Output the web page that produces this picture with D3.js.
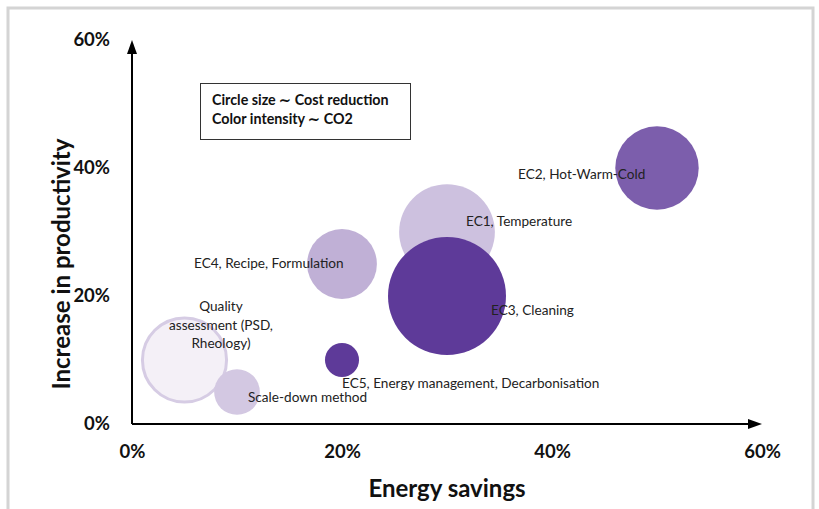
<!DOCTYPE html>
<html><head><meta charset="utf-8">
<script src="https://cdn.jsdelivr.net/npm/d3@7"></script>
<style>body{margin:0;background:#fff}svg{display:block}text{font-family:Lato,"Open Sans",sans-serif}</style>
</head><body><svg id="c" width="819" height="509"></svg>
<script>
const names = ["Quality assessment (PSD, Rheology)","Scale-down method","EC4, Recipe, Formulation","EC5, Energy management, Decarbonisation","EC1, Temperature","EC3, Cleaning","EC2, Hot-Warm-Cold"];
const energySavings = [5,10,20,20,30,30,50];
const productivity = [10,5,25,10,30,20,40];
const costReduction = [6.1,1.8,4.2,1.0,7.9,12,6.0];
const co2Intensity = [0.0,0.22,0.35,1.0,0.26,1.0,0.8];
const xTicks = [0,20,40,60];
const yTicks = [0,20,40,60];

const svg = d3.select("#c");
// outer frame
svg.append("rect").attr("x",8).attr("y",8).attr("width",805).attr("height",510)
  .attr("fill","none").attr("stroke","#d4d4d4").attr("stroke-width",3);

const x = d3.scaleLinear().domain([0,60]).range([132,762]);
const y = d3.scaleLinear().domain([0,60]).range([424,40]);
const r = d3.scaleSqrt().domain([0,12]).range([0,59]);
const col = d3.scaleLinear().domain([0,1]).range(["#f4f0f7","#5e3a99"]);

// bubbles
const data = names.map((n,i)=>({n,x:energySavings[i],y:productivity[i],c:costReduction[i],co2:co2Intensity[i]}));
svg.append("g").selectAll("circle").data(data).join("circle")
  .attr("cx",d=>x(d.x)).attr("cy",d=>y(d.y)).attr("r",d=>r(d.c))
  .attr("fill",d=>col(d.co2))
  .attr("stroke",(d,i)=>i===0?"#d6cce4":"none").attr("stroke-width",3);

// axes arrows
const ax = svg.append("g");
ax.append("line").attr("x1",x(0)).attr("y1",y(0)).attr("x2",x(60)-10).attr("y2",y(0)).attr("stroke","#000").attr("stroke-width",2);
ax.append("path").attr("d",`M${x(60)},${y(0)} l-14,-5 l0,10 z`).attr("fill","#000");
ax.append("line").attr("x1",x(0)).attr("y1",y(0)).attr("x2",x(0)).attr("y2",y(60)+10).attr("stroke","#000").attr("stroke-width",2);
ax.append("path").attr("d",`M${x(0)},${y(60)} l-5,14 l10,0 z`).attr("fill","#000");

// ticks
const fmt = d=>d+"%";
const gx = svg.append("g").attr("transform",`translate(0,${y(0)})`)
  .call(d3.axisBottom(x).tickValues(xTicks).tickFormat(fmt).tickSize(0).tickPadding(21));
gx.select(".domain").remove();
gx.selectAll("text").attr("font-family","Lato").attr("font-weight","bold").attr("font-size",18.5).attr("fill","#111");
const gy = svg.append("g").attr("transform",`translate(${x(0)-22},0)`)
  .call(d3.axisLeft(y).tickValues(yTicks).tickFormat(fmt).tickSize(0).tickPadding(0));
gy.select(".domain").remove();
gy.selectAll("text").attr("font-family","Lato").attr("font-weight","bold").attr("font-size",18.5).attr("fill","#111");

// axis titles
svg.append("text").attr("x",447).attr("y",497).attr("text-anchor","middle")
  .attr("font-weight","bold").attr("font-size",24).attr("fill","#111").text("Energy savings");
svg.append("text").attr("transform","translate(70,264) rotate(-90)").attr("text-anchor","middle")
  .attr("font-weight","bold").attr("font-size",24).attr("fill","#111").text("Increase in productivity");

// legend box
svg.append("rect").attr("x",200.5).attr("y",83.5).attr("width",210).attr("height",56)
  .attr("fill","#fff").attr("stroke","#333").attr("stroke-width",1);
svg.append("text").attr("x",212).attr("y",105).attr("font-weight","bold").attr("font-size",14.3).attr("fill","#111").text("Circle size \u223C Cost reduction");
svg.append("text").attr("x",212).attr("y",124).attr("font-weight","bold").attr("font-size",14.3).attr("fill","#111").text("Color intensity \u223C CO2");

// labels
const lab = [
  {t:["EC2, Hot-Warm-Cold"],x:518,y:179,a:"start"},
  {t:["EC1, Temperature"],x:466,y:226,a:"start"},
  {t:["EC3, Cleaning"],x:491,y:315,a:"start"},
  {t:["EC4, Recipe, Formulation"],x:194,y:268,a:"start"},
  {t:["EC5, Energy management, Decarbonisation"],x:342,y:388,a:"start"},
  {t:["Scale-down method"],x:248,y:402,a:"start"},
  {t:["Quality","assessment (PSD,","Rheology)"],x:221,y:311,a:"middle"}
];
lab.forEach(l=>{
  const t = svg.append("text").attr("font-size",13.6).attr("fill","#222").attr("text-anchor",l.a);
  l.t.forEach((s,i)=>t.append("tspan").attr("x",l.x).attr("y",l.y+i*18.5).text(s));
});
</script></body></html>
